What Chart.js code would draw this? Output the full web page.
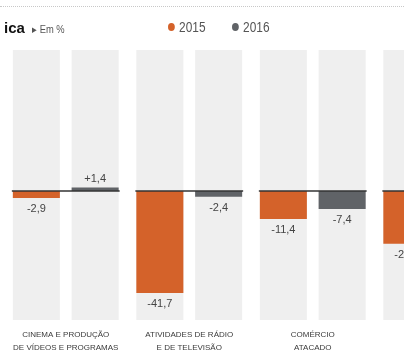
<!DOCTYPE html>
<html>
<head>
<meta charset="utf-8">
<script src="https://cdn.jsdelivr.net/npm/chart.js@4/dist/chart.umd.min.js"></script>
<style>
  html, body { margin: 0; padding: 0; background: #fff; overflow: hidden; width: 404px; height: 356px; }
  #wrap { position: relative; width: 404px; height: 356px; overflow: hidden; }
  #chart { position: absolute; left: 0; top: 0; }
  .topline { position: absolute; left: 0; top: 6px; width: 404px; border-top: 1px dotted #c8c8c8; }
  .head { position: absolute; top: 19px; left: 4px; font-family: "Liberation Sans", Arial, sans-serif; white-space: nowrap; }
  .head b { font-size: 15px; color: #111; }
  .head span { font-size: 11px; color: #555; margin-left: 7px; display: inline-block; transform: scaleX(0.85); transform-origin: left; }
  .leg { position: absolute; top: 19px; font-family: "Liberation Sans", Arial, sans-serif; font-size: 14px; color: #555; transform: scaleX(0.85); transform-origin: left; white-space: nowrap; }
  .dot { display: inline-block; width: 8px; height: 8px; border-radius: 50%; margin-right: 5px; vertical-align: 1px; }
</style>
</head>
<body>
<div id="wrap">
  <canvas id="chart" width="500" height="358"></canvas>
  <div class="topline"></div>
  <div class="head"><b>ica</b><span>&#9656; Em %</span></div>
  <div class="leg" style="left:168px"><span class="dot" style="background:#d4622a"></span>2015</div>
  <div class="leg" style="left:232px"><span class="dot" style="background:#606367"></span>2016</div>
</div>
<script>
// categories (the 4th one is cut off in the reference)
var categories = [
    ['CINEMA E PRODUÇÃO', 'DE VÍDEOS E PROGRAMAS'],
    ['ATIVIDADES DE RÁDIO', 'E DE TELEVISÃO'],
    ['COMÉRCIO', 'ATACADO'],
    ['', '']
];
var values2015 = [-2.9, -41.7, -11.4, -21.6];
var values2016 = [1.4, -2.4, -7.4, null];

var orange = '#d4622a';
var grey = '#606367';

function fmt(v) {
    var s = v.toFixed(1).replace('.', ',');
    return v > 0 ? '+' + s : s;
}

// light columns behind each bar, zero line per group, value labels
var decor = {
    id: 'decor',
    beforeDatasetsDraw: function(chart) {
        var c = chart.ctx, area = chart.chartArea;
        c.save();
        c.fillStyle = '#efefef';
        chart.data.datasets.forEach(function(ds, i) {
            chart.getDatasetMeta(i).data.forEach(function(el) {
                var p = el.getProps(['x', 'width'], true);
                if (isFinite(p.x) && isFinite(p.width)) {
                    c.fillRect(p.x - p.width / 2, area.top, p.width, area.bottom - area.top);
                }
            });
        });
        c.restore();
    },
    afterDatasetsDraw: function(chart) {
        var c = chart.ctx;
        var y0 = chart.scales.y.getPixelForValue(0);
        var m0 = chart.getDatasetMeta(0).data, m1 = chart.getDatasetMeta(1).data;
        c.save();
        c.strokeStyle = '#333';
        c.lineWidth = 1.5;
        for (var i = 0; i < categories.length; i++) {
            var a = m0[i].getProps(['x', 'width'], true), b = m1[i].getProps(['x', 'width'], true);
            c.beginPath();
            c.moveTo(a.x - a.width / 2 - 1, y0);
            c.lineTo(b.x + b.width / 2 + 1, y0);
            c.stroke();
        }
        c.font = '11px "Liberation Sans", sans-serif';
        c.fillStyle = '#444';
        c.textAlign = 'center';
        c.textBaseline = 'middle';
        chart.data.datasets.forEach(function(ds, i) {
            chart.getDatasetMeta(i).data.forEach(function(el, j) {
                var v = ds.data[j];
                if (v === null || v === undefined) return;
                var p = el.getProps(['x', 'y'], true);
                c.fillText(fmt(v), p.x, v < 0 ? p.y + 11 : p.y - 9);
            });
        });
        c.restore();
    }
};

new Chart(document.getElementById('chart'), {
    type: 'bar',
    data: {
        labels: categories,
        datasets: [
            { label: '2015', data: values2015, backgroundColor: orange },
            { label: '2016', data: values2016, backgroundColor: grey }
        ]
    },
    options: {
        responsive: false,
        animation: false,
        categoryPercentage: 0.952,
        barPercentage: 0.8,
        layout: { padding: { left: 4, right: 2, top: 50, bottom: 3 } },
        plugins: { legend: { display: false }, tooltip: { enabled: false } },
        scales: {
            x: {
                grid: { display: false },
                border: { display: false },
                ticks: {
                    color: '#3a3a3a',
                    padding: 0,
                    maxRotation: 0,
                    autoSkip: false,
                    font: { family: '"Liberation Sans", sans-serif', size: 8, lineHeight: '13.5px' }
                }
            },
            y: {
                display: false,
                min: -52.7,
                max: 57.6
            }
        }
    },
    plugins: [decor]
});
</script>
</body>
</html>
